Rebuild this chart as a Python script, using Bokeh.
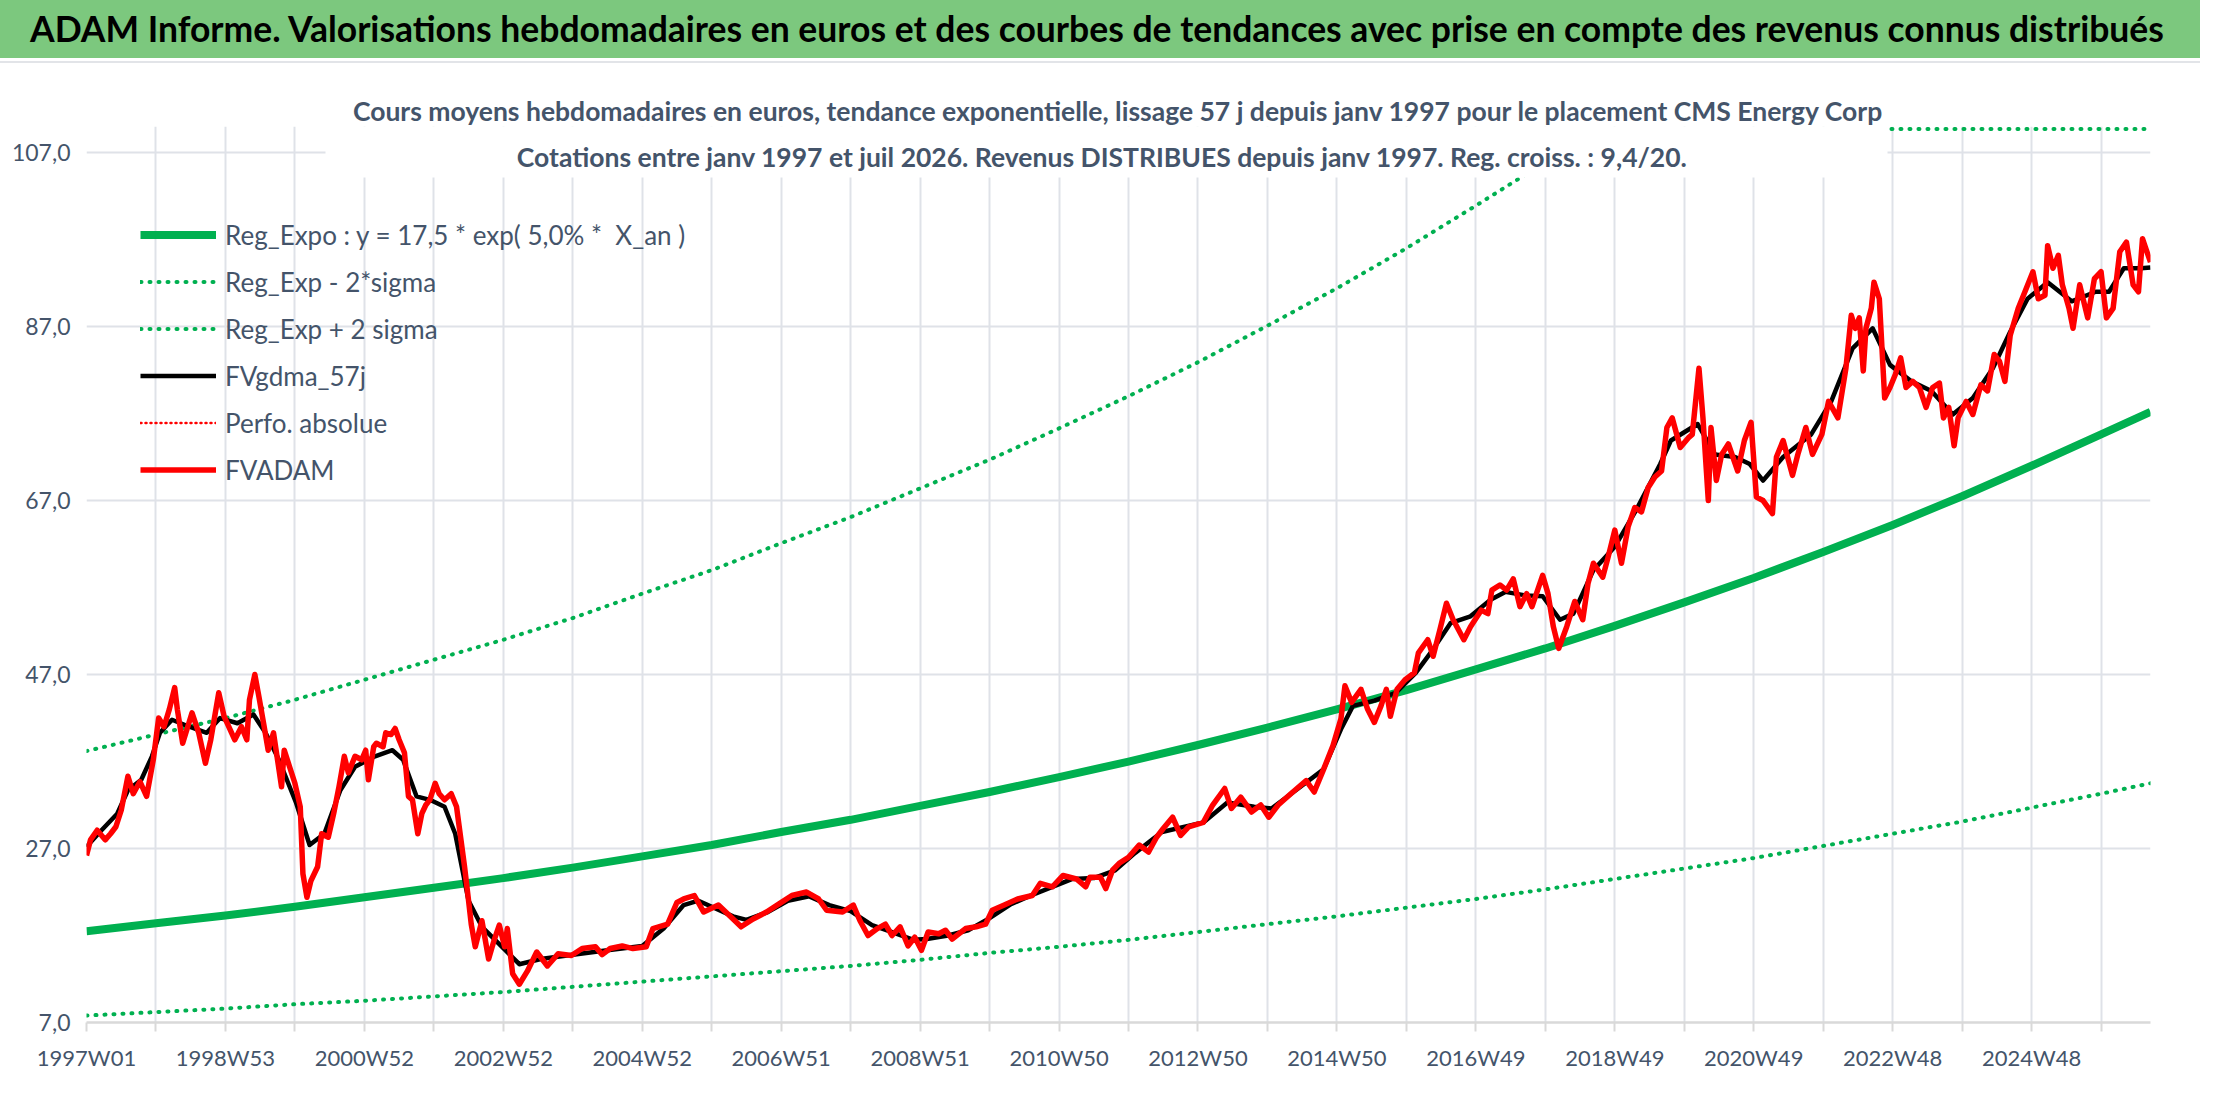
import numpy as np
from bokeh.plotting import figure
from bokeh.models import (ColumnDataSource, Range1d, FixedTicker, Label, BoxAnnotation,
                          Legend, LegendItem, Div)
from bokeh.layouts import column
from bokeh.embed import file_html
from bokeh.resources import INLINE

# ---------------- data (x = week index since 1997W01) ----------------
tick_labels = ["1997W01", "1998W53", "2000W52", "2002W52", "2004W52", "2006W51", "2008W51",
               "2010W50", "2012W50", "2014W50", "2016W49", "2018W49", "2020W49", "2022W48", "2024W48"]
n_weeks = 1546

red_week = [0, 3, 8, 14, 18, 22, 26, 31, 35, 40, 45, 50, 54, 58, 62, 66, 68, 72, 79, 84, 89, 93, 99, 103,
            111, 116, 120, 122, 126, 129, 133, 136, 140, 146, 148, 152, 156, 160, 162, 165, 168, 173, 176,
            181, 185, 189, 193, 196, 201, 206, 209, 211, 215, 217, 222, 224, 228, 231, 234, 238, 241, 244,
            248, 251, 254, 257, 261, 264, 268, 273, 277, 281, 283, 286, 288, 291, 296, 301, 305, 309, 313,
            315, 319, 324, 330, 337, 345, 353, 363, 371, 381, 386, 392, 401, 409, 419, 424, 435, 442, 447,
            455, 462, 473, 484, 490, 499, 509, 519, 528, 539, 548, 554, 566, 574, 579, 585, 592, 598, 603,
            609, 615, 620, 625, 630, 638, 643, 648, 658, 666, 673, 678, 687, 697, 708, 714, 723, 731, 741,
            748, 751, 759, 763, 768, 773, 780, 788, 795, 801, 806, 813, 819, 825, 836, 843, 852, 857, 864,
            872, 879, 885, 892, 903, 913, 919, 926, 933, 939, 942, 947, 954, 959, 964, 969, 973, 976, 981,
            987, 994, 997, 1004, 1008, 1013, 1018, 1023, 1031, 1036, 1044, 1049, 1052, 1058, 1063, 1068,
            1073, 1078, 1082, 1090, 1094, 1098, 1102, 1108, 1114, 1120, 1124, 1128, 1135, 1139, 1144, 1149,
            1154, 1159, 1164, 1169, 1174, 1179, 1183, 1187, 1193, 1199, 1202, 1207, 1210, 1214, 1216, 1220,
            1224, 1229, 1236, 1241, 1246, 1250, 1255, 1262, 1265, 1270, 1277, 1281, 1287, 1292, 1299, 1304,
            1311, 1317, 1321, 1324, 1327, 1330, 1332, 1336, 1338, 1342, 1346, 1350, 1354, 1358, 1362, 1367,
            1372, 1377, 1382, 1387, 1390, 1394, 1398, 1401, 1407, 1412, 1418, 1423, 1428, 1432, 1436, 1440,
            1446, 1451, 1457, 1461, 1466, 1468, 1472, 1476, 1479, 1484, 1487, 1492, 1498, 1503, 1508, 1512,
            1517, 1522, 1527, 1532, 1536, 1539, 1545]
red_val = [26.2, 28.0, 29.1, 28.0, 28.7, 29.5, 31.4, 35.3, 33.3, 34.7, 33.0, 37.2, 42.0, 41.0, 43.0, 45.5,
           43.0, 39.1, 42.6, 40.3, 36.8, 39.5, 44.9, 42.2, 39.5, 41.0, 39.5, 44.1, 47.0, 44.5, 41.0, 38.3,
           40.3, 34.1, 38.3, 36.4, 34.5, 31.8, 24.1, 21.4, 23.3, 24.9, 28.7, 28.3, 31.0, 34.1, 37.6, 35.7,
           37.6, 37.2, 38.3, 34.9, 38.7, 39.1, 38.7, 40.3, 40.1, 40.8, 39.5, 38.0, 33.0, 32.6, 28.7, 31.0,
           32.0, 32.6, 34.5, 33.3, 32.6, 33.3, 31.8, 27.2, 24.9, 21.0, 18.3, 15.7, 18.7, 14.3, 16.4, 18.2,
           15.7, 17.8, 12.6, 11.4, 12.9, 15.1, 13.5, 14.9, 14.7, 15.5, 15.7, 14.8, 15.5, 15.8, 15.5, 15.7,
           17.8, 18.3, 20.8, 21.2, 21.6, 19.7, 20.5, 18.9, 18.0, 18.9, 19.7, 20.7, 21.6, 22.0, 21.2, 19.9,
           19.7, 20.5, 18.7, 17.0, 17.8, 18.3, 17.0, 18.0, 15.8, 16.8, 15.3, 17.4, 17.2, 17.6, 16.6, 17.8,
           18.0, 18.3, 19.9, 20.5, 21.2, 21.6, 23.0, 22.6, 23.9, 23.5, 22.6, 23.7, 23.7, 22.4, 24.5, 25.3,
           26.0, 27.4, 26.6, 28.3, 29.3, 30.6, 28.5, 29.5, 30.0, 32.0, 33.9, 31.6, 32.9, 31.2, 32.0, 30.6,
           32.0, 33.5, 34.8, 33.5, 36.1, 38.8, 41.9, 45.7, 43.8, 45.3, 43.0, 41.5, 43.4, 45.3, 42.2, 45.3,
           46.4, 47.2, 49.5, 51.0, 49.1, 52.1, 55.2, 53.3, 51.0, 52.5, 54.4, 54.0, 56.7, 57.3, 56.7, 58.0,
           54.8, 56.3, 54.8, 58.4, 56.3, 52.5, 50.0, 52.5, 55.4, 53.3, 57.5, 59.8, 58.2, 60.5, 63.6, 59.8,
           64.0, 66.2, 65.7, 68.5, 69.7, 70.4, 75.4, 76.5, 73.1, 74.2, 74.6, 82.2, 76.5, 67.0, 75.4, 69.3,
           72.3, 73.5, 70.4, 73.9, 76.0, 67.4, 67.0, 65.5, 72.0, 73.9, 69.9, 72.3, 75.4, 72.3, 74.6, 78.4,
           76.5, 82.2, 88.3, 86.8, 88.0, 81.9, 86.8, 89.1, 92.1, 90.2, 78.8, 80.0, 81.5, 83.4, 80.0, 80.7,
           80.0, 77.7, 80.0, 80.5, 76.5, 77.7, 73.3, 76.5, 78.4, 76.9, 80.3, 79.6, 83.8, 83.0, 80.7, 86.0,
           89.1, 91.0, 93.3, 90.2, 90.6, 96.3, 93.7, 95.2, 91.8, 89.1, 86.8, 91.8, 88.0, 92.5, 93.3, 88.0,
           89.1, 95.6, 96.7, 91.8, 91.0, 97.1, 94.4]

black_week = [0, 10, 23, 31, 41, 49, 55, 64, 77, 90, 100, 113, 125, 134, 144, 157, 167, 178, 190, 201, 216,
              229, 237, 247, 257, 268, 276, 286, 296, 309, 324, 340, 364, 390, 416, 432, 447, 458, 468, 484,
              494, 510, 525, 541, 556, 572, 588, 603, 619, 629, 645, 660, 676, 692, 707, 723, 738, 754, 770,
              785, 805, 836, 854, 874, 887, 907, 926, 939, 948, 964, 980, 995, 1008, 1021, 1036, 1051, 1062,
              1077, 1090, 1103, 1113, 1128, 1144, 1160, 1178, 1186, 1206, 1219, 1234, 1245, 1255, 1270, 1291,
              1306, 1322, 1337, 1350, 1366, 1381, 1397, 1412, 1427, 1440, 1453, 1468, 1486, 1504, 1514, 1525,
              1538, 1545]
black_val = [27.2, 28.9, 31.0, 33.7, 34.9, 37.6, 40.3, 41.8, 41.0, 40.3, 42.0, 41.4, 42.4, 40.3, 37.2, 32.2,
             27.4, 28.7, 33.7, 36.4, 37.6, 38.3, 37.2, 33.0, 32.6, 31.8, 28.7, 21.0, 18.0, 16.0, 13.7, 14.3,
             14.8, 15.3, 15.8, 17.8, 20.5, 21.0, 20.3, 19.2, 18.8, 19.7, 21.0, 21.5, 20.5, 19.8, 18.2, 17.4,
             16.5, 16.6, 17.0, 17.6, 19.0, 20.6, 21.6, 22.6, 23.5, 23.6, 24.5, 26.5, 28.9, 30.0, 32.3, 31.8,
             31.6, 33.9, 36.1, 40.7, 43.4, 44.0, 44.9, 47.2, 49.9, 52.9, 53.7, 55.6, 56.5, 56.1, 56.0, 53.3,
             54.0, 59.0, 61.7, 65.9, 71.2, 73.9, 75.8, 72.3, 72.0, 71.2, 69.3, 72.0, 74.6, 78.4, 84.5, 86.8,
             82.6, 80.7, 79.6, 76.9, 78.8, 82.2, 86.4, 90.2, 92.1, 89.9, 91.0, 91.0, 93.7, 93.7, 93.8]

reg_week = [0, 52, 104, 156, 208, 260, 312, 364, 416, 468, 520, 572, 624, 676, 728, 780, 832, 884, 936,
            988, 1040, 1092, 1144, 1196, 1248, 1300, 1352, 1404, 1456, 1508, 1545]
reg_val = [17.5, 18.4, 19.3, 20.3, 21.4, 22.5, 23.6, 24.8, 26.1, 27.4, 28.9, 30.3, 31.9, 33.5, 35.2, 37.0,
           38.9, 40.9, 43.0, 45.2, 47.6, 50.0, 52.6, 55.3, 58.1, 61.1, 64.2, 67.5, 71.0, 74.6, 77.2]
low_val = [7.8, 8.2, 8.6, 9.1, 9.5, 10.0, 10.5, 11.1, 11.7, 12.3, 12.9, 13.5, 14.2, 15.0, 15.7, 16.5, 17.4,
           18.3, 19.2, 20.2, 21.2, 22.3, 23.5, 24.7, 25.9, 27.3, 28.7, 30.1, 31.7, 33.3, 34.5]
up_val = [38.2, 40.1, 42.0, 44.1, 46.4, 48.7, 51.0, 53.5, 56.3, 59.0, 62.1, 65.1, 68.4, 71.7, 75.3, 79.0,
          82.9, 87.1, 91.4, 96.0, 100.9, 105.9, 111.2, 117.0, 123.0, 129.3, 136.0, 143.0, 150.3, 158.0, 163.6]

y_ticks = [7, 27, 47, 67, 87, 107]

# ---------------- styles ----------------
FONT = "Lato"
TXT = "#44546A"
GREEN = "#00B050"
RED = "#FF0000"
GRID = "#DFE2E8"
Y_MIN, Y_MAX = 7, 110
TITLE = ("ADAM Informe. Valorisations hebdomadaires en euros et des courbes de tendances avec prise en "
         "compte des revenus connus distribués")

# ---------------- banner ----------------
banner = Div(text=(f'<div style="width:2200px;height:58px;background:#7CC87E;font-family:Lato;'
                   f'font-weight:bold;font-size:35.5px;color:black;line-height:58px;padding-left:30px;'
                   f'box-sizing:border-box;white-space:nowrap;overflow:hidden;">{TITLE}</div>'
                   f'<div style="width:2200px;height:3px;background:white;"></div>'
                   f'<div style="width:2200px;height:2px;background:#E2E4E8;"></div>'),
             width=2200, height=64, margin=0)

# ---------------- main chart ----------------
FR_L, FR_R, FR_T, FR_B = 86, 50, 62, 66
W, H = 2200, 1024
p = figure(width=W, height=H, output_backend="svg", toolbar_location=None,
           title="Cours moyens hebdomadaires en euros, tendance exponentielle, lissage 57 j depuis janv 1997 "
                 "pour le placement CMS Energy Corp",
           x_range=Range1d(0, n_weeks - 1), y_range=Range1d(Y_MIN, Y_MAX),
           min_border_left=FR_L, min_border_right=FR_R, min_border_top=FR_T, min_border_bottom=FR_B)
p.outline_line_color = None
p.background_fill_color = "white"
p.border_fill_color = "white"
p.title.align = "center"
p.title.offset = -16
p.title.standoff = 0
p.title.text_font = FONT
p.title.text_font_style = "bold"
p.title.text_font_size = "26.5px"
p.title.text_color = TXT

frame_w = W - FR_L - FR_R
frame_h = H - FR_T - FR_B
px_per_week = frame_w / (n_weeks - 1)
px_per_unit = frame_h / (Y_MAX - Y_MIN)

# axes
p.xaxis.ticker = FixedTicker(ticks=list(range(0, n_weeks, 52)))
p.xaxis.major_label_overrides = {k: (tick_labels[k // 104] if k % 104 == 0 and k // 104 < len(tick_labels) else "")
                                 for k in range(0, n_weeks, 52)}
p.xaxis.axis_line_color = "#D9D9D9"
p.xaxis.axis_line_width = 2.5
p.xaxis.major_tick_line_color = "#D9D9D9"
p.xaxis.major_tick_line_width = 2
p.xaxis.major_tick_out = 9
p.xaxis.major_tick_in = 0
p.xaxis.minor_tick_line_color = None
p.xaxis.major_label_standoff = 12
p.xaxis.major_label_text_font = FONT
p.xaxis.major_label_text_font_size = "22px"
p.xaxis.major_label_text_color = TXT

p.yaxis.ticker = FixedTicker(ticks=y_ticks)
p.yaxis.major_label_overrides = {v: f"{v},0" for v in y_ticks}
p.yaxis.axis_line_color = None
p.yaxis.major_tick_line_color = None
p.yaxis.minor_tick_line_color = None
p.yaxis.major_label_standoff = 10
p.yaxis.major_label_text_font = FONT
p.yaxis.major_label_text_font_size = "23px"
p.yaxis.major_label_text_color = TXT

p.xgrid.grid_line_color = GRID
p.xgrid.grid_line_width = 2
p.ygrid.grid_line_color = GRID
p.ygrid.grid_line_width = 2

# series
src_reg = ColumnDataSource(dict(x=reg_week, reg=reg_val, low=low_val,
                                up=np.minimum(np.array(up_val), Y_MAX - 0.3)))
r_reg = p.line("x", "reg", source=src_reg, line_color=GREEN, line_width=8, line_join="round")
r_low = p.line("x", "low", source=src_reg, line_color=GREEN, line_width=4, line_dash="1 8", line_cap="round")
r_up = p.line("x", "up", source=src_reg, line_color=GREEN, line_width=4, line_dash="1 8", line_cap="round")
r_blk = p.line(black_week, black_val, line_color="black", line_width=4.5, line_join="round")
r_perf = p.line("x", "y", source=ColumnDataSource(dict(x=[0.0, 1.0], y=[np.nan, np.nan])),
                line_color=RED, line_width=2.5, line_dash="1 4", line_cap="round")
r_red = p.line(red_week, red_val, line_color=RED, line_width=5.5, line_join="round")

# white box of the subtitle, hiding the lines beneath it
p.add_layout(BoxAnnotation(left=(323 - 84) / px_per_week, right=(1885 - 84) / px_per_week,
                           bottom=Y_MAX - (175 - 124) / px_per_unit,
                           fill_color="white", fill_alpha=1.0, line_color=None))
xc = (1100 - 84) / px_per_week
p.add_layout(Label(x=xc, y=107 - 4 / px_per_unit,
                   text="Cotations entre janv 1997 et juil 2026. Revenus DISTRIBUES depuis janv 1997. "
                        "Reg. croiss. : 9,4/20.",
                   text_font=FONT, text_font_style="bold", text_font_size="26.5px", text_color=TXT,
                   text_align="center", text_baseline="middle"))

legend = Legend(items=[
    LegendItem(label="Reg_Expo : y = 17,5 * exp( 5,0% *  X_an )", renderers=[r_reg]),
    LegendItem(label="Reg_Exp - 2*sigma", renderers=[r_low]),
    LegendItem(label="Reg_Exp + 2 sigma", renderers=[r_up]),
    LegendItem(label="FVgdma_57j", renderers=[r_blk]),
    LegendItem(label="Perfo. absolue", renderers=[r_perf]),
    LegendItem(label="FVADAM", renderers=[r_red]),
], location=(54, 536))
legend.background_fill_alpha = 0
legend.border_line_alpha = 0
legend.padding = 0
legend.margin = 0
legend.spacing = 14
legend.glyph_height = 33
legend.label_height = 33
legend.glyph_width = 76
legend.label_standoff = 9
legend.label_text_font = FONT
legend.label_text_font_size = "26px"
legend.label_text_color = TXT
p.add_layout(legend)

layout = column(banner, p, spacing=0)
open("out.html", "w").write(file_html(layout, INLINE))
